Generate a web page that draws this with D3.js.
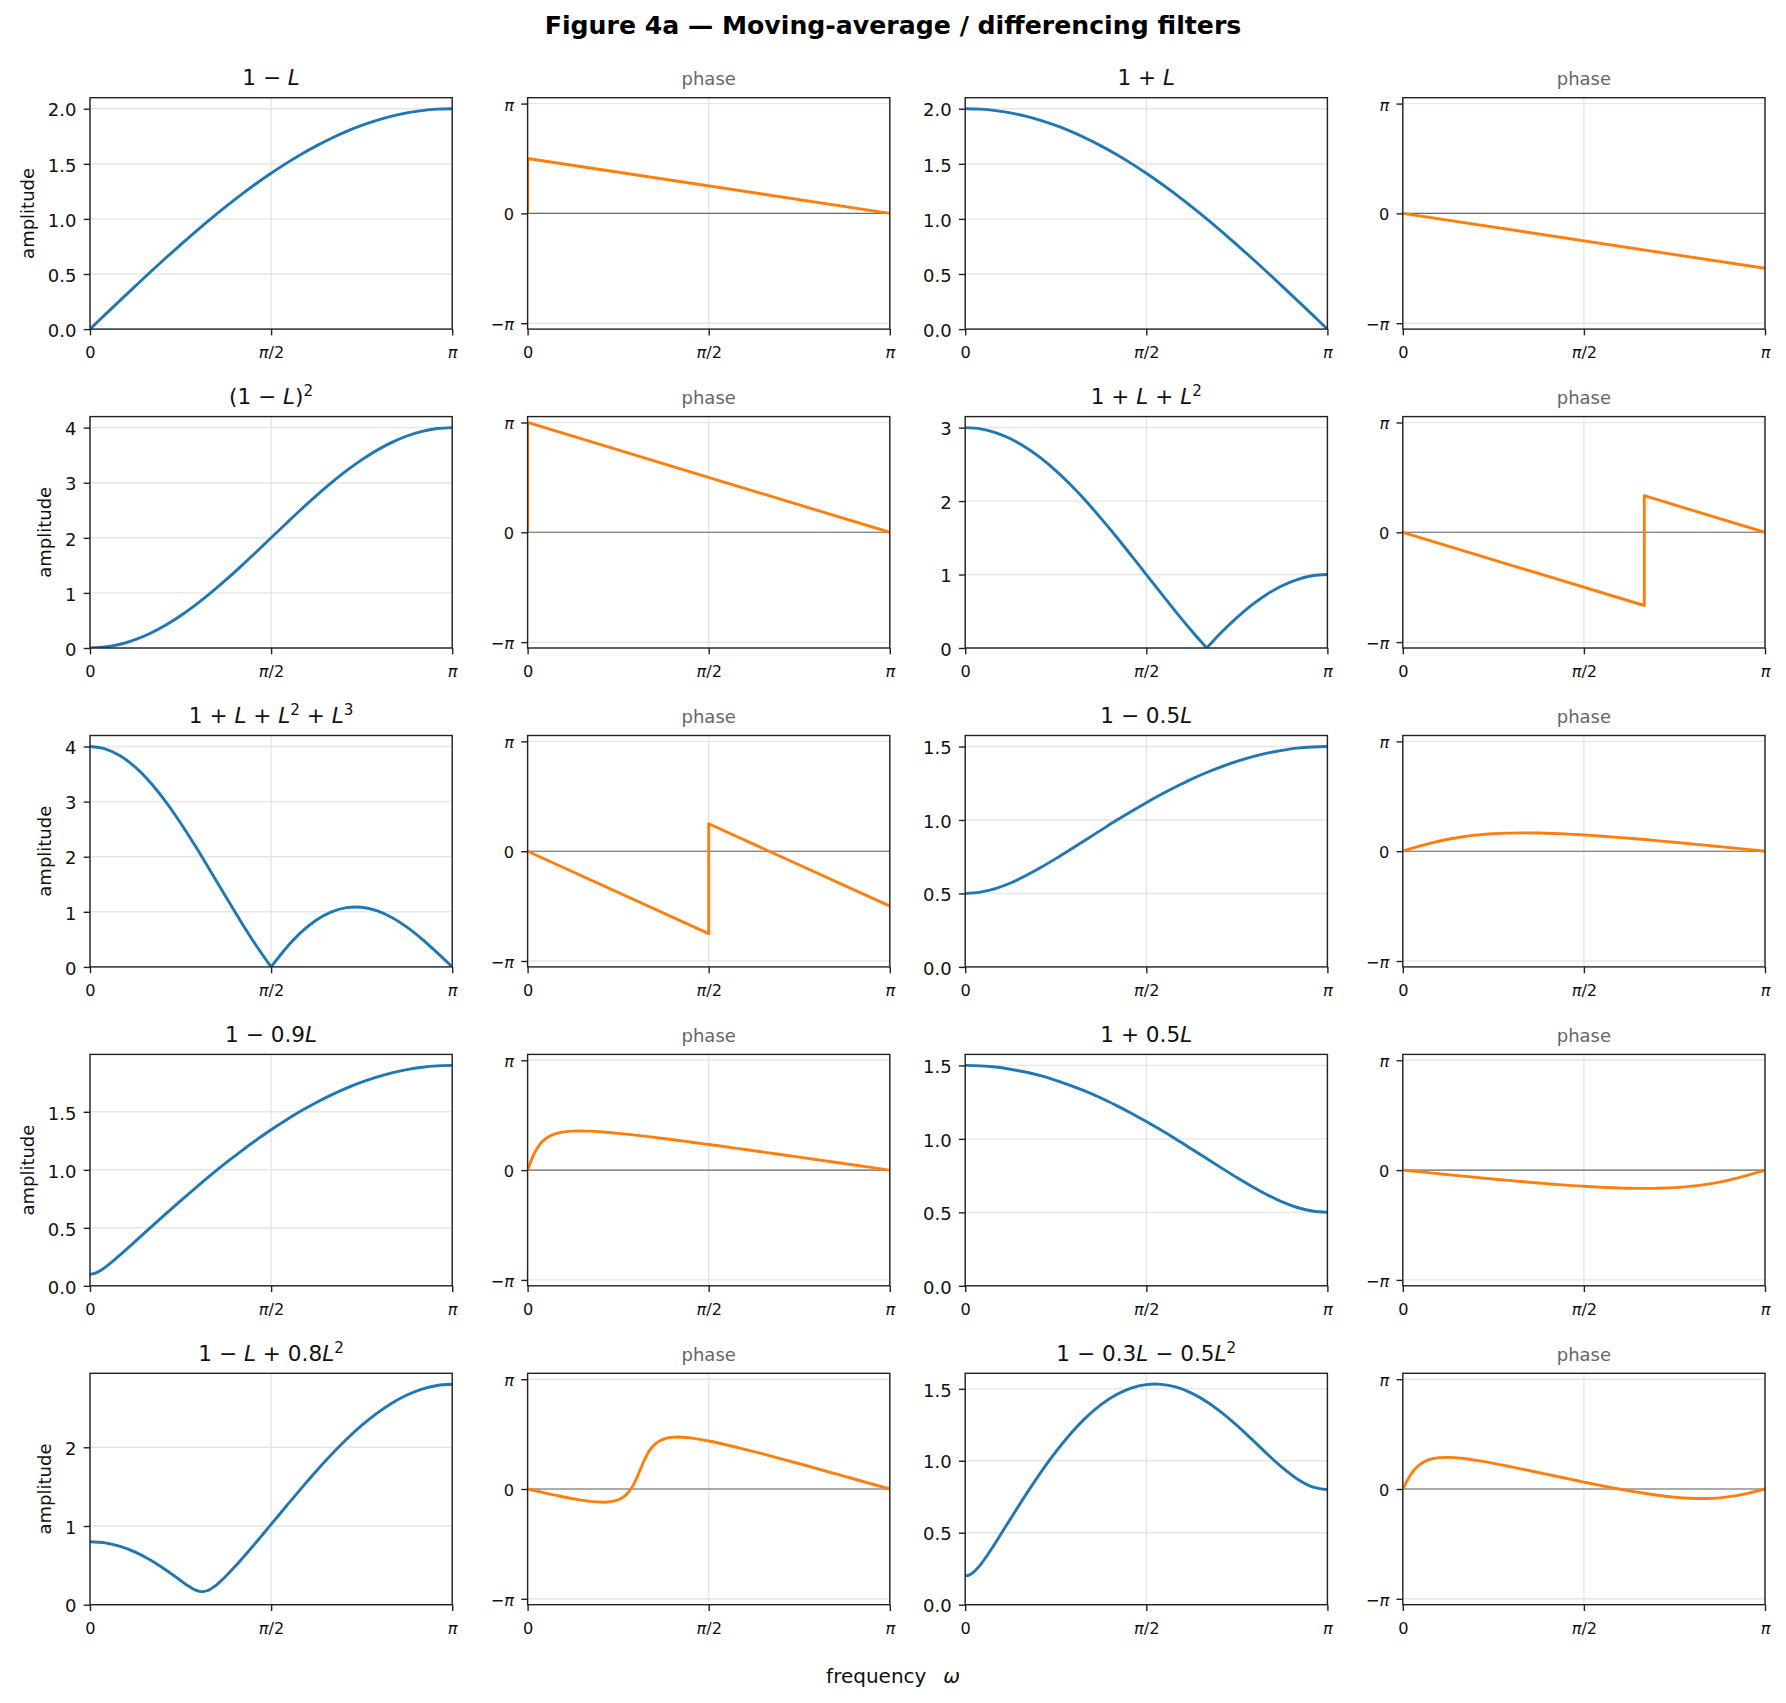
<!DOCTYPE html>
<html><head><meta charset="utf-8">
<script src="https://cdn.jsdelivr.net/npm/d3@7"></script>
<style>
body{margin:0;background:#fff;}
text{font-family:"DejaVu Sans",sans-serif;}
</style>
</head><body>
<svg id="chart" width="1786" height="1703"></svg>
<script>
// ---------- DATA (frequency in units of pi) ----------
const FREQ = [0, 0.0417, 0.0833, 0.125, 0.1667, 0.2083, 0.25, 0.2917, 0.3333, 0.375, 0.4167, 0.4583, 0.5,
  0.5417, 0.5833, 0.625, 0.6667, 0.7083, 0.75, 0.7917, 0.8333, 0.875, 0.9167, 0.9583, 1];
const FREQ_FINE = [0, 0.0104, 0.0208, 0.0313, 0.0417, 0.0625, 0.0833, 0.125, 0.1667, 0.2083, 0.25, 0.2917, 0.3333,
  0.375, 0.4167, 0.4583, 0.5, 0.5417, 0.5833, 0.625, 0.6667, 0.7083, 0.75, 0.7917, 0.8333, 0.875, 0.9167, 0.9583, 1];
const FREQ_LM = [0, 0.0417, 0.0833, 0.125, 0.1667, 0.2083, 0.2292, 0.25, 0.2604, 0.2708, 0.2813, 0.2917, 0.3021,
  0.3125, 0.3229, 0.3333, 0.3438, 0.3542, 0.375, 0.3958, 0.4167, 0.4583, 0.5, 0.5417, 0.5833, 0.625, 0.6667,
  0.7083, 0.75, 0.7917, 0.8333, 0.875, 0.9167, 0.9583, 1];

const titles = ["1−L", "1+L", "(1−L)^2", "1+L+L^2", "1+L+L^2+L^3", "1−0.5L", "1−0.9L", "1+0.5L", "1−L+0.8L^2", "1−0.3L−0.5L^2"];

// amplitudes
const amp_1mL = [0, 0.131, 0.261, 0.390, 0.518, 0.643, 0.765, 0.885, 1.000, 1.111, 1.218, 1.319, 1.414, 1.504, 1.587, 1.663, 1.732, 1.794, 1.848, 1.894, 1.932, 1.962, 1.983, 1.996, 2.000];
const amp_1pL = [2.000, 1.996, 1.983, 1.962, 1.932, 1.894, 1.848, 1.794, 1.732, 1.663, 1.587, 1.504, 1.414, 1.319, 1.218, 1.111, 1.000, 0.885, 0.765, 0.643, 0.518, 0.390, 0.261, 0.131, 0];
const amp_1mL2 = [0, 0.017, 0.068, 0.152, 0.268, 0.413, 0.586, 0.783, 1.000, 1.235, 1.482, 1.739, 2.000, 2.261, 2.518, 2.765, 3.000, 3.218, 3.414, 3.587, 3.732, 3.848, 3.932, 3.983, 4.000];
const amp_ma3 = [3.000, 2.983, 2.932, 2.848, 2.732, 2.587, 2.414, 2.218, 2.000, 1.765, 1.518, 1.261, 1.000, 0.739, 0.482, 0.235, 0.000, 0.218, 0.414, 0.587, 0.732, 0.848, 0.932, 0.983, 1.000];
const amp_ma4 = [4.000, 3.958, 3.831, 3.625, 3.346, 3.005, 2.613, 2.184, 1.732, 1.273, 0.821, 0.393, 0.000, 0.344, 0.630, 0.850, 1.000, 1.077, 1.082, 1.020, 0.897, 0.721, 0.504, 0.259, 0.000];
const amp_1m05 = [0.500, 0.509, 0.533, 0.571, 0.620, 0.676, 0.737, 0.801, 0.866, 0.931, 0.996, 1.058, 1.118, 1.175, 1.228, 1.278, 1.323, 1.363, 1.399, 1.430, 1.455, 1.474, 1.489, 1.497, 1.500];
const amp_1m09 = [0.100, 0.1047, 0.1177, 0.1366, 0.1594, 0.2112, 0.2671, 0.3834, 0.5012, 0.6180, 0.7329, 0.8451, 0.9539, 1.0589, 1.1594, 1.2550, 1.3454, 1.4300, 1.5086, 1.5808, 1.6462, 1.7046, 1.7558, 1.7995, 1.8354, 1.8636, 1.8838, 1.8959, 1.900];
const amp_1p05 = [1.500, 1.497, 1.489, 1.474, 1.455, 1.430, 1.399, 1.363, 1.323, 1.278, 1.228, 1.175, 1.118, 1.058, 0.996, 0.931, 0.866, 0.801, 0.737, 0.676, 0.620, 0.571, 0.533, 0.509, 0.500];
const amp_lm08 = [0.800, 0.7850, 0.7405, 0.6674, 0.5677, 0.4450, 0.3771, 0.3073, 0.2728, 0.2398, 0.2099, 0.1853, 0.1693, 0.1663, 0.1772, 0.2000, 0.2325, 0.2716, 0.3619, 0.4620, 0.5680, 0.7903, 1.0198, 1.2508, 1.4786, 1.6989, 1.9079, 2.1018, 2.2772, 2.4311, 2.5608, 2.6641, 2.7392, 2.7847, 2.800];
const amp_0305 = [0.200, 0.2057, 0.2218, 0.2463, 0.2768, 0.3491, 0.4292, 0.5964, 0.7617, 0.9183, 1.0620, 1.1900, 1.3000, 1.3901, 1.4589, 1.5056, 1.5297, 1.5314, 1.5112, 1.4704, 1.4107, 1.3347, 1.2458, 1.1486, 1.0487, 0.9540, 0.8739, 0.8195, 0.800];

// phases
const ph_1mL_w = [0, 0, 1],            ph_1mL = [0, 1.5708, 0];
const ph_1pL_w = [0, 1],               ph_1pL = [0, -1.5708];
const ph_1mL2_w = [0, 0, 1],           ph_1mL2 = [0, 3.1416, 0];
const ph_ma3_w = [0, 0.6667, 0.6667, 1], ph_ma3 = [0, -2.0944, 1.0472, 0];
const ph_ma4_w = [0, 0.5, 0.5, 1],     ph_ma4 = [0, -2.3562, 0.7854, -1.5708];
const ph_1m05 = [0, 0.129, 0.245, 0.342, 0.415, 0.467, 0.501, 0.518, 0.524, 0.519, 0.506, 0.488, 0.464, 0.436, 0.404, 0.370, 0.334, 0.295, 0.256, 0.215, 0.173, 0.130, 0.087, 0.044, 0];
const ph_1m09 = [0, 0.2850, 0.5235, 0.7018, 0.8290, 0.9820, 1.0594, 1.1160, 1.1152, 1.0898, 1.0517, 1.0065, 0.9563, 0.9034, 0.8478, 0.7909, 0.7328, 0.6735, 0.6141, 0.5542, 0.4934, 0.4320, 0.3709, 0.3094, 0.2477, 0.1859, 0.1240, 0.0620, 0];
const ph_1p05 = [0, -0.044, -0.087, -0.130, -0.173, -0.215, -0.256, -0.295, -0.334, -0.370, -0.404, -0.436, -0.464, -0.488, -0.506, -0.519, -0.524, -0.518, -0.501, -0.467, -0.415, -0.342, -0.245, -0.129, 0];
const ph_lm08 = [0, -0.0976, -0.1918, -0.2778, -0.3469, -0.3773, -0.3631, -0.3072, -0.2535, -0.1731, -0.0554, 0.1114, 0.3314, 0.5890, 0.8394, 1.0472, 1.2007, 1.3078, 1.4276, 1.4757, 1.4856, 1.4481, 1.3734, 1.2807, 1.1779, 1.0693, 0.9563, 0.8409, 0.7232, 0.6043, 0.4844, 0.3637, 0.2430, 0.1215, 0];
const ph_0305 = [0, 0.2082, 0.3930, 0.5420, 0.6547, 0.7977, 0.8686, 0.9034, 0.8716, 0.8108, 0.7352, 0.6509, 0.5620, 0.4711, 0.3790, 0.2874, 0.1974, 0.1100, 0.0263, -0.0520, -0.1231, -0.1846, -0.2332, -0.2645, -0.2733, -0.2530, -0.1985, -0.1104, 0];

// ticks
const ticksHalf2 = [0, 0.5, 1, 1.5, 2];
const ticksHalf15 = [0, 0.5, 1, 1.5];
const ticksInt4 = [0, 1, 2, 3, 4];
const ticksInt3 = [0, 1, 2, 3];
const ticksInt2 = [0, 1, 2];
const xTickVals = [0, 0.5, 1];
const xTickLabels = ["0", "π/2", "π"];
const phTickVals = [-Math.PI, 0, Math.PI];
const phTickLabels = ["−π", "0", "π"];
const yMaxes = [2.1, 2.1, 4.2, 3.15, 4.2, 1.575, 1.995, 1.575, 2.94, 1.608];
const PH_LIM = 3.31;

const filters = [
  {w: FREQ, amp: amp_1mL, ticks: ticksHalf2, dec: 1, pw: ph_1mL_w, ph: ph_1mL},
  {w: FREQ, amp: amp_1pL, ticks: ticksHalf2, dec: 1, pw: ph_1pL_w, ph: ph_1pL},
  {w: FREQ, amp: amp_1mL2, ticks: ticksInt4, dec: 0, pw: ph_1mL2_w, ph: ph_1mL2},
  {w: FREQ, amp: amp_ma3, ticks: ticksInt3, dec: 0, pw: ph_ma3_w, ph: ph_ma3},
  {w: FREQ, amp: amp_ma4, ticks: ticksInt4, dec: 0, pw: ph_ma4_w, ph: ph_ma4},
  {w: FREQ, amp: amp_1m05, ticks: ticksHalf15, dec: 1, pw: FREQ, ph: ph_1m05},
  {w: FREQ_FINE, amp: amp_1m09, ticks: ticksHalf15, dec: 1, pw: FREQ_FINE, ph: ph_1m09},
  {w: FREQ, amp: amp_1p05, ticks: ticksHalf15, dec: 1, pw: FREQ, ph: ph_1p05},
  {w: FREQ_LM, amp: amp_lm08, ticks: ticksInt2, dec: 0, pw: FREQ_LM, ph: ph_lm08},
  {w: FREQ_FINE, amp: amp_0305, ticks: ticksHalf15, dec: 1, pw: FREQ_FINE, ph: ph_0305}
];
filters.forEach((f, i) => { f.title = titles[i]; f.yMax = yMaxes[i]; });

// ---------- LAYOUT ----------
const COLX = [90, 527.6, 965.2, 1402.8];
const ROW0 = 97.7, ROWSTEP = 318.9;
const AW = 362.2, AH = 231.4;
const BLUE = "#1f77b4", ORANGE = "#ff7f0e";
const INK = "#111";

const svg = d3.select("#chart");
svg.append("rect").attr("width", 1786).attr("height", 1703).attr("fill", "#fff");

// rich text: L, π, ω italic; ^x superscript; spaced binary operators
function richText(sel, s, fs, spaced) {
  let raised = false;
  let i = 0;
  while (i < s.length) {
    let ch = s[i];
    if (ch === "^") {
      sel.append("tspan").attr("dy", -0.37 * fs).attr("font-size", 0.7 * fs).text(s[i + 1]);
      raised = true; i += 2; continue;
    }
    let txt = ch;
    if (spaced && (ch === "+" || ch === "−") && i > 0) txt = "\u00a0" + ch + "\u00a0";
    const t = sel.append("tspan").text(txt);
    if (ch === "L" || ch === "π" || ch === "ω") t.attr("font-style", "italic");
    if (raised) { t.attr("dy", 0.37 * fs); raised = false; }
    i++;
  }
}

// split a series at interior zero kinks (|H| touches 0) so the smooth curve keeps the V shape
function segmentsOf(pts, isAmp) {
  if (!isAmp) return [pts];
  const segs = []; let start = 0;
  for (let i = 1; i < pts.length - 1; i++) {
    if (pts[i][1] === 0) { segs.push(pts.slice(start, i + 1)); start = i; }
  }
  segs.push(pts.slice(start));
  return segs;
}

let clipCount = 0;
function panel(x0, y0, kind, f, withYLabel) {
  const g = svg.append("g").attr("transform", `translate(${x0},${y0})`);
  const x = d3.scaleLinear().domain([0, 1]).range([0, AW]);
  const y = kind === "amp"
    ? d3.scaleLinear().domain([0, f.yMax]).range([AH, 0])
    : d3.scaleLinear().domain([-PH_LIM, PH_LIM]).range([AH, 0]);
  const yt = kind === "amp" ? f.ticks : phTickVals;
  const cid = "clip" + (clipCount++);
  g.append("clipPath").attr("id", cid).append("rect").attr("width", AW).attr("height", AH);

  // grid
  g.append("g").selectAll("line").data(yt).join("line")
    .attr("x1", 0).attr("x2", AW).attr("y1", d => y(d)).attr("y2", d => y(d))
    .attr("stroke", "#e6e6e6").attr("stroke-width", 1.4);
  g.append("g").selectAll("line").data(xTickVals).join("line")
    .attr("x1", d => x(d)).attr("x2", d => x(d)).attr("y1", 0).attr("y2", AH)
    .attr("stroke", "#e6e6e6").attr("stroke-width", 1.4);

  if (kind === "phase") {
    g.append("line").attr("x1", 0).attr("x2", AW).attr("y1", y(0)).attr("y2", y(0))
      .attr("stroke", "#6a6a6a").attr("stroke-width", 1.1);
  }

  const wv = kind === "amp" ? f.w : f.pw;
  const vv = kind === "amp" ? f.amp : f.ph;
  const pts = d3.zip(wv, vv);
  const smooth = pts.length > 4;
  const line = d3.line().x(d => x(d[0])).y(d => y(d[1]))
    .curve(smooth ? d3.curveCatmullRom.alpha(0.5) : d3.curveLinear);
  const cg = g.append("g").attr("clip-path", `url(#${cid})`);
  segmentsOf(pts, kind === "amp").forEach(seg => {
    cg.append("path").datum(seg).attr("d", line)
      .attr("fill", "none").attr("stroke", kind === "amp" ? BLUE : ORANGE)
      .attr("stroke-width", 2.9).attr("stroke-linejoin", "round");
  });

  // spines
  g.append("rect").attr("width", AW).attr("height", AH)
    .attr("fill", "none").attr("stroke", "#222").attr("stroke-width", 1.4);

  // y axis
  const fmt = kind === "amp" ? (f.dec ? d3.format(".1f") : d3.format("d")) : null;
  const yAxis = d3.axisLeft(y).tickValues(yt).tickSize(6.3).tickPadding(7)
    .tickFormat((d, i) => kind === "amp" ? fmt(d) : "");
  const ya = g.append("g").call(yAxis);
  ya.select(".domain").remove();
  ya.selectAll(".tick line").attr("stroke", "#222").attr("stroke-width", 1.4);
  ya.selectAll(".tick text").attr("fill", INK).attr("x", -13.5)
    .attr("font-size", kind === "amp" ? 18 : 16.2)
    .attr("dy", "0.40em")
    .attr("font-family", "DejaVu Sans");
  if (kind === "phase") {
    ya.selectAll(".tick text").each(function (d, i) {
      richText(d3.select(this), phTickLabels[i], 16.2, false);
    });
  }

  // x axis
  const xAxis = d3.axisBottom(x).tickValues(xTickVals).tickSize(6.3).tickFormat(() => "");
  const xa = g.append("g").attr("transform", `translate(0,${AH})`).call(xAxis);
  xa.select(".domain").remove();
  xa.selectAll(".tick line").attr("stroke", "#222").attr("stroke-width", 1.4);
  xa.selectAll(".tick text").attr("fill", INK).attr("y", 29).attr("dy", 0)
    .attr("font-size", 16.2).attr("font-family", "DejaVu Sans")
    .each(function (d, i) { richText(d3.select(this), xTickLabels[i], 16.2, false); });

  // title
  const tt = g.append("text").attr("x", AW / 2).attr("y", -12.3).attr("text-anchor", "middle");
  if (kind === "amp") {
    tt.attr("font-size", 21.6).attr("fill", INK);
    richText(tt, f.title, 21.6, true);
  } else {
    tt.attr("font-size", 18).attr("fill", "#666").text("phase");
  }

  if (withYLabel) {
    let minX = 0;
    ya.selectAll(".tick text").each(function () {
      const b = this.getBBox(); minX = Math.min(minX, b.x);
    });
    const bx = minX - 13.7;
    g.append("text").attr("transform", `translate(${bx},${AH / 2}) rotate(-90)`)
      .attr("text-anchor", "middle").attr("font-size", 18).attr("fill", INK).text("amplitude");
  }
}

filters.forEach((f, i) => {
  const r = Math.floor(i / 2), p = i % 2;
  const y0 = ROW0 + r * ROWSTEP;
  panel(COLX[p * 2], y0, "amp", f, p === 0);
  panel(COLX[p * 2 + 1], y0, "phase", f, false);
});

// super title
svg.append("text").attr("x", 893).attr("y", 34).attr("text-anchor", "middle")
  .attr("font-size", 25.2).attr("font-weight", "bold").attr("fill", "#000")
  .text("Figure 4a — Moving-average / differencing filters");

// x label
const xl = svg.append("text").attr("x", 893).attr("y", 1683).attr("text-anchor", "middle")
  .attr("font-size", 20).attr("fill", INK);
xl.append("tspan").text("frequency\u00a0\u00a0\u2009");
xl.append("tspan").attr("font-style", "italic").text("ω");
</script>
</body></html>
